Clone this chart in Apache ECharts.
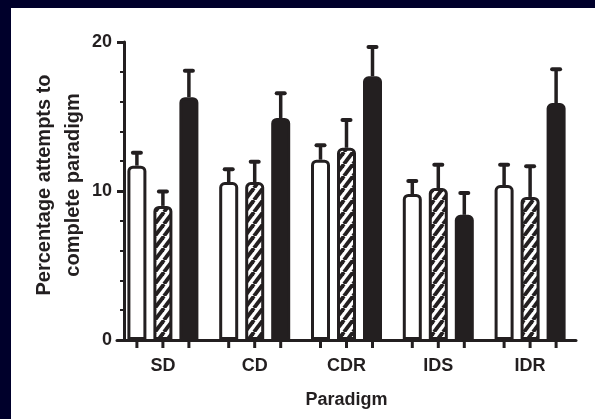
<!DOCTYPE html>
<html>
<head>
<meta charset="utf-8">
<script src="https://cdn.jsdelivr.net/npm/echarts@6/dist/echarts.min.js"></script>
<style>
  html, body { margin: 0; padding: 0; background: #00002b; width: 595px; height: 419px; overflow: hidden; }
  #chart { position: absolute; left: 11px; top: 8px; width: 584px; height: 411px; background: #ffffff; }
</style>
</head>
<body>
<div id="chart"></div>
<script>
// ---- data ----
const categories = ['SD', 'CD', 'CDR', 'IDS', 'IDR'];
const whiteMeans = [11.7, 10.6, 12.1, 9.8, 10.4];
const whiteErr = [0.9, 0.9, 1.0, 0.9, 1.4];
const hatchedMeans = [9.0, 10.6, 12.9, 10.2, 9.6];
const hatchedErr = [1.0, 1.4, 1.9, 1.6, 2.1];
const blackMeans = [16.3, 14.9, 17.7, 8.4, 15.9];
const blackErr = [1.8, 1.7, 2.0, 1.5, 2.3];
const yTickValues = [0, 10, 20];
const yAxisTitle = 'Percentage attempts to\ncomplete paradigm';
const xAxisTitle = 'Paradigm';

// ---- styles ----
const INK = '#231f20';
const BAR_W = 19;
const BAR_GAP = 7 / 19;
const SPACING = BAR_W * (1 + BAR_GAP);
const FONT = 'Liberation Sans, Arial, Helvetica, sans-serif';

function makeHatch() {
  const w = 9, h = 12;
  const c = document.createElement('canvas');
  c.width = w; c.height = h;
  const ctx = c.getContext('2d');
  ctx.fillStyle = '#ffffff';
  ctx.fillRect(0, 0, w, h);
  ctx.strokeStyle = INK;
  ctx.lineWidth = 3.8;
  for (let k = -1; k <= 1; k++) {
    ctx.beginPath();
    ctx.moveTo(k * w, h);
    ctx.lineTo(k * w + w, 0);
    ctx.stroke();
  }
  return c;
}

const seriesMeans = [whiteMeans, hatchedMeans, blackMeans];
const seriesErrs = [whiteErr, hatchedErr, blackErr];
const fills = ['#ffffff', { image: makeHatch(), repeat: 'repeat' }, INK];

const errData = [];
const tickData = [];
for (let g = 0; g < 3; g++) {
  for (let i = 0; i < categories.length; i++) {
    errData.push([i, g, seriesMeans[g][i], seriesErrs[g][i]]);
    tickData.push([i, g, 0]);
  }
}

const chart = echarts.init(document.getElementById('chart'), null, { renderer: 'canvas' });

const barSeries = seriesMeans.map((arr, g) => ({
  type: 'bar',
  data: arr,
  barWidth: BAR_W,
  barGap: (BAR_GAP * 100) + '%',
  itemStyle: { color: fills[g], borderColor: INK, borderWidth: 3, borderRadius: [4, 4, 0, 0] },
  z: 3,
  silent: true
}));

const option = {
  animation: false,
  backgroundColor: '#ffffff',
  grid: { left: 106, right: 19, top: 34, bottom: 79, containLabel: false },
  xAxis: {
    type: 'category',
    data: categories,
    axisLine: { lineStyle: { color: INK, width: 3 } },
    axisTick: { show: false },
    axisLabel: { color: INK, fontFamily: FONT, fontWeight: 'bold', fontSize: 18, margin: 17 },
    name: xAxisTitle,
    nameLocation: 'middle',
    nameGap: 51,
    nameMoveOverlap: false,
    nameTextStyle: { color: INK, fontFamily: FONT, fontWeight: 'bold', fontSize: 18 }
  },
  yAxis: {
    type: 'value',
    min: yTickValues[0],
    max: yTickValues[yTickValues.length - 1],
    interval: yTickValues[1] - yTickValues[0],
    offset: -7,
    splitLine: { show: false },
    axisLine: { show: true, lineStyle: { color: INK, width: 3 } },
    axisTick: { show: true, length: 7, lineStyle: { color: INK, width: 3 } },
    minorTick: { show: true, splitNumber: 5, length: 4, lineStyle: { color: INK, width: 2 } },
    axisLabel: { color: INK, fontFamily: FONT, fontWeight: 'bold', fontSize: 18, margin: 12 },
    name: yAxisTitle,
    nameLocation: 'middle',
    nameGap: 36,
    nameMoveOverlap: false,
    nameRotate: 90,
    nameTextStyle: { color: INK, fontFamily: FONT, fontWeight: 'bold', fontSize: 20, lineHeight: 29, align: 'center', padding: [0, 0, 0, 12] }
  },
  series: barSeries.concat([
    {
      type: 'custom',
      data: errData,
      z: 2,
      silent: true,
      clip: false,
      renderItem: function (params, api) {
        const cat = api.value(0), g = api.value(1), m = api.value(2), e = api.value(3);
        const base = api.coord([cat, m]);
        const top = api.coord([cat, m + e]);
        const x = base[0] + (g - 1) * SPACING;
        return {
          type: 'group',
          children: [
            { type: 'line', shape: { x1: x, y1: base[1], x2: x, y2: top[1] }, style: { stroke: INK, lineWidth: 3.5 } },
            { type: 'line', shape: { x1: x - 4, y1: top[1] + 0.5, x2: x + 4, y2: top[1] + 0.5 }, style: { stroke: INK, lineWidth: 4, lineCap: 'round' } }
          ]
        };
      }
    },
    {
      type: 'custom',
      data: tickData,
      z: 4,
      silent: true,
      clip: false,
      renderItem: function (params, api) {
        const cat = api.value(0), g = api.value(1);
        const p = api.coord([cat, api.value(2)]);
        const x = p[0] + (g - 1) * SPACING;
        return { type: 'line', shape: { x1: x, y1: p[1], x2: x, y2: p[1] + 8 }, style: { stroke: INK, lineWidth: 3 } };
      }
    }
  ])
};

chart.setOption(option);
</script>
</body>
</html>
